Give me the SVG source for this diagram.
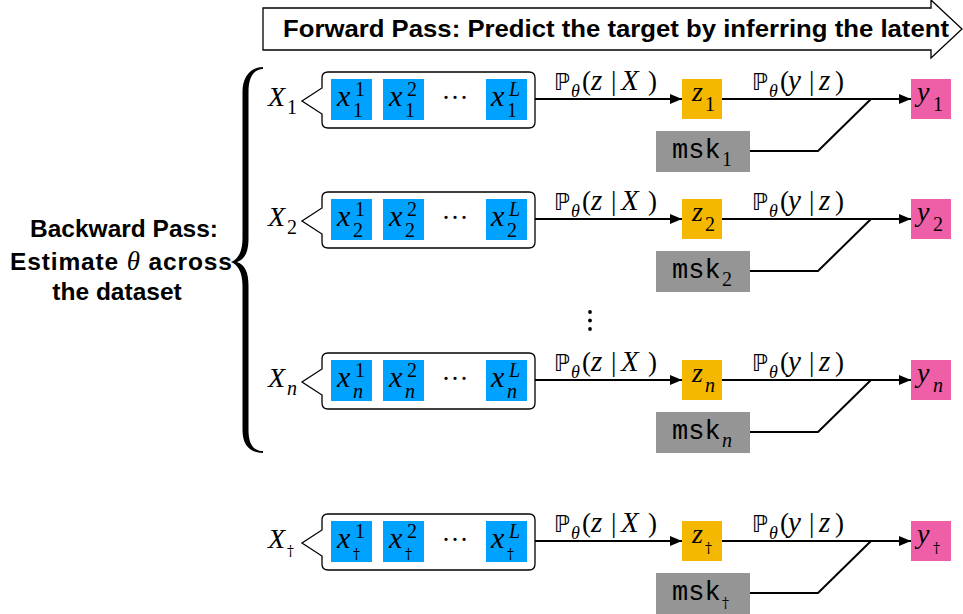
<svg xmlns="http://www.w3.org/2000/svg" width="963" height="614" viewBox="0 0 963 614">
<style>
.m{font-family:"Liberation Serif","Times New Roman",serif;font-style:italic;font-size:28px;fill:#000}
.ml{font-family:"Liberation Serif","Times New Roman",serif;font-style:italic;font-size:29px;fill:#000}
.bx{font-family:"Liberation Serif","Times New Roman",serif;font-style:italic;font-size:30px;fill:#000}
.s{font-family:"Liberation Serif","Times New Roman",serif;font-size:20px;fill:#000}
.si{font-family:"Liberation Serif","Times New Roman",serif;font-style:italic;font-size:20px;fill:#000}
.dg{font-family:"DejaVu Serif","Liberation Serif",serif;font-size:14px;fill:#000}
.r{font-family:"Liberation Serif","Times New Roman",serif;font-size:27px;fill:#000}
.bb{font-family:"DejaVu Sans","DejaVu Serif",sans-serif;font-size:23px;fill:#000}
.th{font-family:"Liberation Serif","Times New Roman",serif;font-style:italic;font-size:18px;fill:#000}
.tt{font-family:"Liberation Mono","Courier New",monospace;font-size:27px;fill:#000}
.bold{font-family:"Liberation Sans",Arial,sans-serif;font-weight:bold;fill:#000}
.blue{fill:#00A2FF}
.z{fill:#F5B800}
.y{fill:#EE5FA7}
.msk{fill:#959595}
.set{fill:#fff;stroke:#000;stroke-width:1.3}
.ln{fill:none;stroke:#000;stroke-width:2}
</style>
<defs>
<marker id="ah" markerUnits="userSpaceOnUse" markerWidth="12" markerHeight="10" refX="12" refY="5" orient="auto">
<path d="M0,0 L12,5 L0,10 Z" fill="#000"/>
</marker>
</defs>

<g id="forward-banner">
<path d="M263 8 H931 V0 L962 29 L931 58 V50 H263 Z" fill="#fff" stroke="#000" stroke-width="1.3"/>
<text class="bold" x="283" y="37" font-size="24" textLength="666" lengthAdjust="spacingAndGlyphs">Forward Pass: Predict the target by inferring the latent</text>
</g>

<g id="backward-label">
<text class="bold" font-size="24.5" text-anchor="middle" x="124" y="237">Backward Pass:</text>
<text class="bold" font-size="24.5" text-anchor="middle" x="121" y="270" textLength="222">Estimate <tspan font-family="Liberation Serif,serif" font-style="italic" font-weight="normal" font-size="27">θ</tspan> across</text>
<text class="bold" font-size="24.5" text-anchor="middle" x="117" y="300">the dataset</text>
</g>

<g id="brace">
<path d="M263 67 C252 67 242.5 75 242.5 92 L242.5 238 C242.5 252 238 259 231 262 C238 265 242.5 272 242.5 286 L242.5 430 C242.5 447 252 453 263 453 L263 451 C254 451 248.5 445 248.5 430 L248.5 286 C248.5 272 245 265 237 262 C245 259 248.5 252 248.5 238 L248.5 92 C248.5 77 254 69 263 69 Z" fill="#000"/>
</g>

<g id="vdots" fill="#000">
<circle cx="590" cy="312" r="1.9"/>
<circle cx="590" cy="320.5" r="1.9"/>
<circle cx="590" cy="329" r="1.9"/>
</g>

<!-- Row 1 -->
<g id="row1">
<g id="X1"><text class="m" x="268" y="106">X</text><text class="s" x="287" y="114">1</text></g>
<g id="set1">
<path class="set" d="M328 72 H529 Q535 72 535 78 V122 Q535 128 529 128 H328 Q322 128 322 122 V114 L302 101 L322 88 V78 Q322 72 328 72 Z"/>
<rect class="blue" x="331" y="79" width="41" height="41"/>
<text class="bx" x="337" y="106">x</text><text class="s" x="355" y="96">1</text><text class="s" x="353" y="117">1</text>
<rect class="blue" x="383" y="79" width="41" height="41"/>
<text class="bx" x="389" y="106">x</text><text class="s" x="407" y="96">2</text><text class="s" x="405" y="117">1</text>
<text class="r" x="455" y="107" text-anchor="middle">···</text>
<rect class="blue" x="486" y="79" width="41" height="41"/>
<text class="bx" x="491" y="106">x</text><text class="si" x="509" y="96">L</text><text class="s" x="507" y="117">1</text>
</g>
<g id="z1"><rect class="z" x="682" y="79" width="40" height="40"/><text class="m" x="692" y="101">z</text><text class="s" x="705" y="111">1</text></g>
<g id="y1"><rect class="y" x="911" y="79" width="40" height="40"/><text class="m" x="917" y="101">y</text><text class="s" x="933" y="111">1</text></g>
<g id="msk1"><rect class="msk" x="656" y="131" width="94" height="41"/><text class="tt" x="672" y="158">msk</text><text class="s" x="722" y="166">1</text></g>
</g>

<!-- Row 2 -->
<g id="row2" transform="translate(0,120)">
<g id="X2"><text class="m" x="268" y="106">X</text><text class="s" x="287" y="114">2</text></g>
<g id="set2">
<path class="set" d="M328 72 H529 Q535 72 535 78 V122 Q535 128 529 128 H328 Q322 128 322 122 V114 L302 101 L322 88 V78 Q322 72 328 72 Z"/>
<rect class="blue" x="331" y="79" width="41" height="41"/>
<text class="bx" x="337" y="106">x</text><text class="s" x="355" y="96">1</text><text class="s" x="353" y="117">2</text>
<rect class="blue" x="383" y="79" width="41" height="41"/>
<text class="bx" x="389" y="106">x</text><text class="s" x="407" y="96">2</text><text class="s" x="405" y="117">2</text>
<text class="r" x="455" y="107" text-anchor="middle">···</text>
<rect class="blue" x="486" y="79" width="41" height="41"/>
<text class="bx" x="491" y="106">x</text><text class="si" x="509" y="96">L</text><text class="s" x="507" y="117">2</text>
</g>
<g id="z2"><rect class="z" x="682" y="79" width="40" height="40"/><text class="m" x="692" y="101">z</text><text class="s" x="705" y="111">2</text></g>
<g id="y2"><rect class="y" x="911" y="79" width="40" height="40"/><text class="m" x="917" y="101">y</text><text class="s" x="933" y="111">2</text></g>
<g id="msk2"><rect class="msk" x="656" y="131" width="94" height="41"/><text class="tt" x="672" y="158">msk</text><text class="s" x="722" y="166">2</text></g>
</g>

<!-- Row n -->
<g id="rown" transform="translate(0,281)">
<g id="Xn"><text class="m" x="268" y="106">X</text><text class="si" x="287" y="114">n</text></g>
<g id="setn">
<path class="set" d="M328 72 H529 Q535 72 535 78 V122 Q535 128 529 128 H328 Q322 128 322 122 V114 L302 101 L322 88 V78 Q322 72 328 72 Z"/>
<rect class="blue" x="331" y="79" width="41" height="41"/>
<text class="bx" x="337" y="106">x</text><text class="s" x="355" y="96">1</text><text class="si" x="353" y="117">n</text>
<rect class="blue" x="383" y="79" width="41" height="41"/>
<text class="bx" x="389" y="106">x</text><text class="s" x="407" y="96">2</text><text class="si" x="405" y="117">n</text>
<text class="r" x="455" y="107" text-anchor="middle">···</text>
<rect class="blue" x="486" y="79" width="41" height="41"/>
<text class="bx" x="491" y="106">x</text><text class="si" x="509" y="96">L</text><text class="si" x="507" y="117">n</text>
</g>
<g id="zn"><rect class="z" x="682" y="79" width="40" height="40"/><text class="m" x="692" y="101">z</text><text class="si" x="705" y="111">n</text></g>
<g id="yn"><rect class="y" x="911" y="79" width="40" height="40"/><text class="m" x="917" y="101">y</text><text class="si" x="933" y="111">n</text></g>
<g id="mskn"><rect class="msk" x="656" y="131" width="94" height="41"/><text class="tt" x="672" y="158">msk</text><text class="si" x="722" y="166">n</text></g>
</g>

<!-- Row dagger -->
<g id="rowdagger" transform="translate(0,442)">
<g id="Xd"><text class="m" x="268" y="106">X</text><text class="dg" x="287" y="114">†</text></g>
<g id="setd">
<path class="set" d="M328 72 H529 Q535 72 535 78 V122 Q535 128 529 128 H328 Q322 128 322 122 V114 L302 101 L322 88 V78 Q322 72 328 72 Z"/>
<rect class="blue" x="331" y="79" width="41" height="41"/>
<text class="bx" x="337" y="106">x</text><text class="s" x="355" y="96">1</text><text class="dg" x="353" y="117">†</text>
<rect class="blue" x="383" y="79" width="41" height="41"/>
<text class="bx" x="389" y="106">x</text><text class="s" x="407" y="96">2</text><text class="dg" x="405" y="117">†</text>
<text class="r" x="455" y="107" text-anchor="middle">···</text>
<rect class="blue" x="486" y="79" width="41" height="41"/>
<text class="bx" x="491" y="106">x</text><text class="si" x="509" y="96">L</text><text class="dg" x="507" y="117">†</text>
</g>
<g id="zd"><rect class="z" x="682" y="79" width="40" height="40"/><text class="m" x="692" y="101">z</text><text class="dg" x="705" y="111">†</text></g>
<g id="yd"><rect class="y" x="911" y="79" width="40" height="40"/><text class="m" x="917" y="101">y</text><text class="dg" x="933" y="111">†</text></g>
<g id="mskd"><rect class="msk" x="656" y="131" width="94" height="41"/><text class="tt" x="672" y="158">msk</text><text class="dg" x="722" y="166">†</text></g>
</g>

<g id="connectors">
<g id="conn-row1">
<line class="ln" x1="535" y1="99" x2="682" y2="99" marker-end="url(#ah)"/>
<line class="ln" x1="722" y1="99" x2="911" y2="99" marker-end="url(#ah)"/>
<polyline class="ln" points="750,151 818,151 871,99"/>
<g><text class="bb" x="554" y="90">ℙ</text><text class="th" x="571" y="97">θ</text><text class="r" x="582" y="90">(</text><text class="ml" x="591" y="90">z</text><text class="r" x="611" y="90">|</text><text class="ml" x="621" y="90">X</text><text class="r" x="648" y="90">)</text></g>
<g><text class="bb" x="752" y="90">ℙ</text><text class="th" x="769" y="97">θ</text><text class="r" x="780" y="90">(</text><text class="ml" x="788" y="90">y</text><text class="r" x="809" y="90">|</text><text class="ml" x="819" y="90">z</text><text class="r" x="835" y="90">)</text></g>
</g>
<g id="conn-row2" transform="translate(0,120)">
<line class="ln" x1="535" y1="99" x2="682" y2="99" marker-end="url(#ah)"/>
<line class="ln" x1="722" y1="99" x2="911" y2="99" marker-end="url(#ah)"/>
<polyline class="ln" points="750,151 818,151 871,99"/>
<g><text class="bb" x="554" y="90">ℙ</text><text class="th" x="571" y="97">θ</text><text class="r" x="582" y="90">(</text><text class="ml" x="591" y="90">z</text><text class="r" x="611" y="90">|</text><text class="ml" x="621" y="90">X</text><text class="r" x="648" y="90">)</text></g>
<g><text class="bb" x="752" y="90">ℙ</text><text class="th" x="769" y="97">θ</text><text class="r" x="780" y="90">(</text><text class="ml" x="788" y="90">y</text><text class="r" x="809" y="90">|</text><text class="ml" x="819" y="90">z</text><text class="r" x="835" y="90">)</text></g>
</g>
<g id="conn-rown" transform="translate(0,281)">
<line class="ln" x1="535" y1="99" x2="682" y2="99" marker-end="url(#ah)"/>
<line class="ln" x1="722" y1="99" x2="911" y2="99" marker-end="url(#ah)"/>
<polyline class="ln" points="750,151 818,151 871,99"/>
<g><text class="bb" x="554" y="90">ℙ</text><text class="th" x="571" y="97">θ</text><text class="r" x="582" y="90">(</text><text class="ml" x="591" y="90">z</text><text class="r" x="611" y="90">|</text><text class="ml" x="621" y="90">X</text><text class="r" x="648" y="90">)</text></g>
<g><text class="bb" x="752" y="90">ℙ</text><text class="th" x="769" y="97">θ</text><text class="r" x="780" y="90">(</text><text class="ml" x="788" y="90">y</text><text class="r" x="809" y="90">|</text><text class="ml" x="819" y="90">z</text><text class="r" x="835" y="90">)</text></g>
</g>
<g id="conn-rowd" transform="translate(0,442)">
<line class="ln" x1="535" y1="99" x2="682" y2="99" marker-end="url(#ah)"/>
<line class="ln" x1="722" y1="99" x2="911" y2="99" marker-end="url(#ah)"/>
<polyline class="ln" points="750,151 818,151 871,99"/>
<g><text class="bb" x="554" y="90">ℙ</text><text class="th" x="571" y="97">θ</text><text class="r" x="582" y="90">(</text><text class="ml" x="591" y="90">z</text><text class="r" x="611" y="90">|</text><text class="ml" x="621" y="90">X</text><text class="r" x="648" y="90">)</text></g>
<g><text class="bb" x="752" y="90">ℙ</text><text class="th" x="769" y="97">θ</text><text class="r" x="780" y="90">(</text><text class="ml" x="788" y="90">y</text><text class="r" x="809" y="90">|</text><text class="ml" x="819" y="90">z</text><text class="r" x="835" y="90">)</text></g>
</g>
</g>
</svg>
